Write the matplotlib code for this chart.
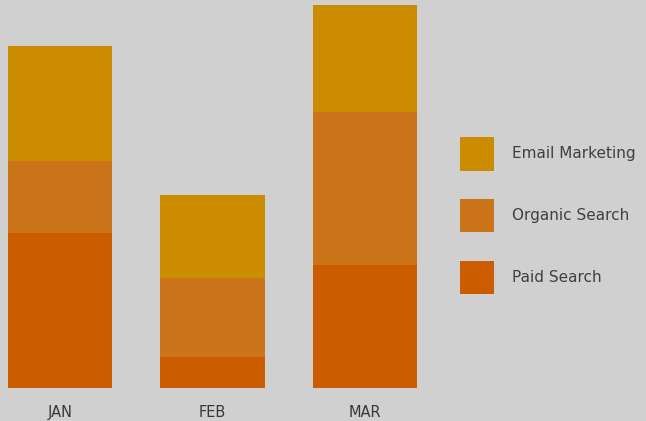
import matplotlib
matplotlib.use("Agg")
import matplotlib.pyplot as plt
import numpy as np

months = ["JAN", "FEB", "MAR"]
paid_search = [155, 31, 123]
organic_search = [72, 79, 153]
email_marketing = [115, 83, 107]

series_names = ["Email Marketing", "Organic Search", "Paid Search"]
colors = {"Paid Search": "#cc5c00", "Organic Search": "#cc741a", "Email Marketing": "#cc8c00"}
bg = "#d0d0d0"

W, H = 646, 421
fig = plt.figure(figsize=(W / 100, H / 100), dpi=100, facecolor=bg)
ax = fig.add_axes([0, 33 / H, 440 / W, 388 / H])
ax.set_facecolor(bg)

x = np.arange(len(months))
width = 0.682
bottom = np.zeros(len(months))
handles = {}
for name, vals in [("Paid Search", paid_search), ("Organic Search", organic_search), ("Email Marketing", email_marketing)]:
    b = ax.bar(x, vals, width, bottom=bottom, color=colors[name], label=name, linewidth=0)
    handles[name] = b
    bottom += np.array(vals)

ax.set_xlim(-60 / 152.5, 380 / 152.5)
ax.set_ylim(0, 388)
for s in ax.spines.values():
    s.set_visible(False)
ax.set_yticks([])
ax.set_xticks(x)
ax.set_xticklabels(months, fontsize=10.5, color="#383838", family="DejaVu Sans")
ax.tick_params(axis="x", length=0, pad=12)

fs = 11
fig.legend([handles[n] for n in series_names], series_names,
           loc="upper left", bbox_to_anchor=(460 / W, (H - 137) / H),
           frameon=False, borderpad=0, borderaxespad=0,
           prop={"family": "DejaVu Sans", "size": fs},
           handlelength=34 / (fs * 100 / 72), handleheight=3.0, labelspacing=1.85,
           handletextpad=1.2, labelcolor="#404040")

fig.savefig("out.png", dpi=100, facecolor=bg)
